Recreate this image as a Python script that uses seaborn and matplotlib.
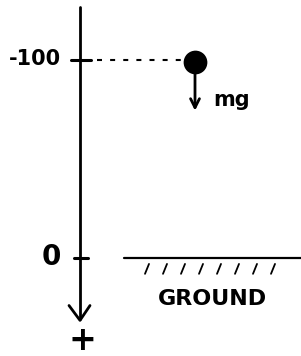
import numpy as np
import pandas as pd
import matplotlib.pyplot as plt
import seaborn as sns

# positions along the vertical axis (positive is downward)
tick_positions = [-100, 0]
tick_labels = ["-100", "0"]
tick_label_sizes = [15, 20]
ball_position = -100
force_label = "mg"
ground_label = "GROUND"
ground_level = 0
hatch_count = 8

sns.set_theme(style="white")
plt.rcParams['font.family'] = ['DejaVu Sans']

fig = plt.figure(figsize=(3.01, 3.56), dpi=100)
ax = fig.add_axes([0, 0, 1, 1])
ax.set_xlim(0, 301)
# 0 sits near the bottom, -100 near the top, + points down
ax.set_ylim(49.5, -130.3)
ax.axis('off')

ink = "black"
axis_x = 80

# vertical coordinate axis with arrow pointing to +
ax.plot([axis_x, axis_x], [-127, 31], color=ink, lw=2.0, solid_capstyle='round')
ax.plot([axis_x - 11, axis_x, axis_x + 10], [24, 31.5, 24], color=ink, lw=2.0,
        solid_capstyle='round', solid_joinstyle='round')
ax.text(axis_x + 2, 41.5, "+", ha='center', va='center', fontsize=24,
        fontweight='bold', color=ink)

# ticks and labels
for pos, lab, fs in zip(tick_positions, tick_labels, tick_label_sizes):
    half = 10 if pos != 0 else 7
    ax.plot([axis_x - half + 1, axis_x + half + 1], [pos, pos], color=ink, lw=2.2,
            solid_capstyle='round')
    ax.text(axis_x - 19, pos - 0.5, lab, ha='right', va='center', fontsize=fs,
            fontweight='bold', color=ink)

# dashed guide to the ball
ax.plot([97, 185], [ball_position, ball_position], color=ink, lw=1.5,
        linestyle=(0, (2.4, 3.9)))

# the ball
ball = pd.DataFrame({"x": [195], "y": [ball_position + 1]})
sns.scatterplot(data=ball, x="x", y="y", s=250, color=ink, edgecolor=ink,
                ax=ax, legend=False, zorder=5)

# weight arrow
ax.annotate("", xy=(195, ball_position + 27), xytext=(195, ball_position + 1),
            arrowprops=dict(arrowstyle="->", color=ink, lw=2.0,
                            mutation_scale=16))
ax.text(213, ball_position + 20, force_label, ha='left', va='center',
        fontsize=15, fontweight='bold', color=ink)

# ground line and hatching
ax.plot([124, 301], [ground_level, ground_level], color=ink, lw=1.6)
hx = np.linspace(147, 273, hatch_count)
for x in hx:
    ax.plot([x - 2, x + 2], [ground_level + 8, ground_level + 3], color=ink, lw=1.3)
ax.text(212, ground_level + 20.5, ground_label, ha='center', va='center',
        fontsize=16, fontweight='bold', color=ink)

fig.savefig("out.png", dpi=100, facecolor="white")
